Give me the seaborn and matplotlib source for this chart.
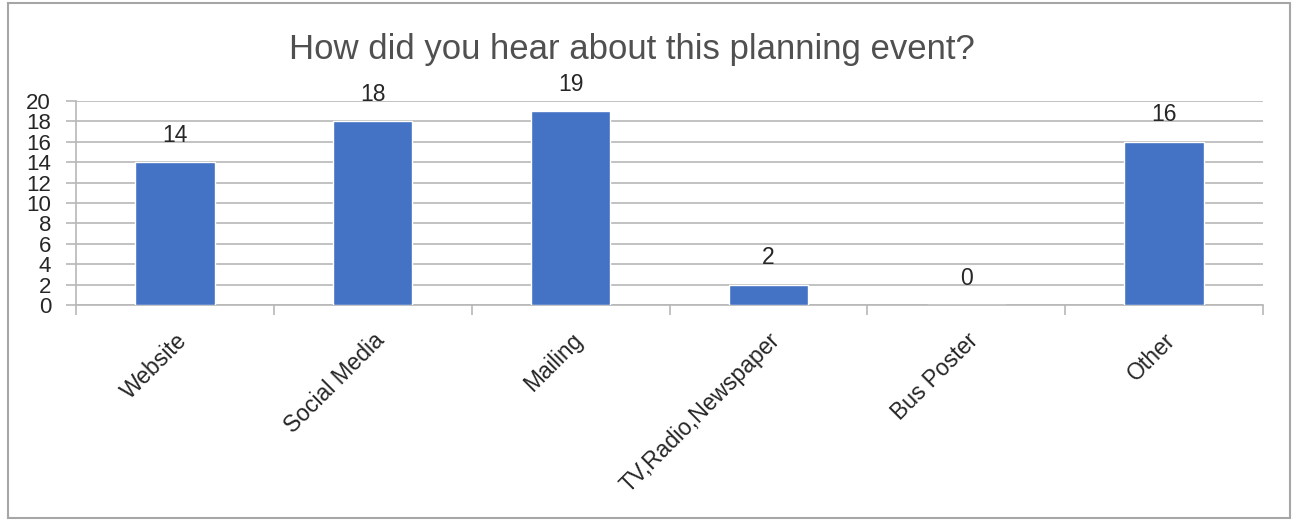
import matplotlib
matplotlib.use("Agg")
import matplotlib.pyplot as plt
import seaborn as sns
import pandas as pd
from matplotlib.patches import Rectangle

# Survey answers
sources = ['Website', 'Social Media', 'Mailing', 'TV,Radio,Newspaper', 'Bus Poster', 'Other']
counts = [14, 18, 19, 2, 0, 16]
y_ticks = list(range(0, 21, 2))
title = 'How did you hear about this planning event?'

bar_color = '#4472C4'
grid_color = '#B7B7B7'

sns.set_theme(style='white')
plt.rcParams['font.family'] = ['Liberation Sans', 'DejaVu Sans']

df = pd.DataFrame({'source': sources, 'count': counts})

fig = plt.figure(figsize=(12.98, 5.2), dpi=100)
ax = fig.add_axes([0.0586, 0.4135, 0.9144, 0.3925])

sns.barplot(data=df, x='source', y='count', color=bar_color, width=0.4,
            saturation=1, ax=ax, zorder=3)

ax.set_xlim(-0.5, len(sources) - 0.5)
ax.set_ylim(0, 20)
ax.set_yticks(y_ticks)
ax.set_yticklabels([str(t) for t in y_ticks], fontsize=16)
ax.yaxis.grid(True, color=grid_color, linewidth=1.2, zorder=0)
ax.set_axisbelow(True)

# category labels at the centres, tick marks at the boundaries
ax.set_xticks(range(len(sources)))
ax.set_xticklabels(sources, fontsize=16.5, rotation=45, ha='right',
                   rotation_mode='anchor')
ax.tick_params(axis='x', which='major', length=0, pad=17)
ax.set_xticks([i - 0.5 for i in range(len(sources) + 1)], minor=True)
ax.tick_params(axis='x', which='minor', length=7, color=grid_color, width=1.2,
               bottom=True)
ax.tick_params(axis='y', length=7, color=grid_color, width=1.2, left=True, pad=11)

for side in ['top', 'right']:
    ax.spines[side].set_visible(False)
for side in ['left', 'bottom']:
    ax.spines[side].set_color(grid_color)
    ax.spines[side].set_linewidth(1.2)

ax.set_xlabel('')
ax.set_ylabel('')

for container in ax.containers:
    ax.bar_label(container, fontsize=16.5, padding=11)

fig.text(0.487, 0.905, title, fontsize=25, color='#505050', ha='center', va='center')

# chart border
fig.patches.append(Rectangle((0.006, 0.004), 0.988, 0.99, transform=fig.transFigure,
                             fill=False, edgecolor='#A6A6A6', linewidth=1.5))

fig.savefig('out.png', dpi=100)
